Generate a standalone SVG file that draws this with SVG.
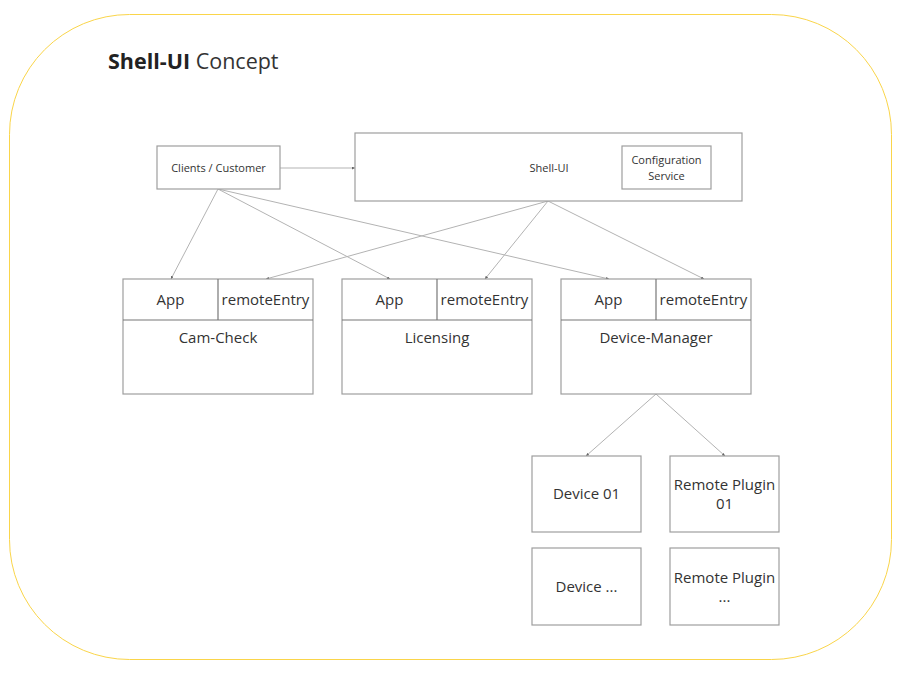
<svg xmlns="http://www.w3.org/2000/svg" width="904" height="674" viewBox="0 0 904 674">
<defs>
<style>
.frame{fill:#fff;stroke:#fad54a;stroke-width:1}
.box{fill:#fff;stroke:#9e9e9e;stroke-width:1.2}
.t{font-family:"Open Sans","Liberation Sans",sans-serif;fill:#333;text-anchor:middle}
.s{font-size:11px}
.m{font-size:15px}
.c{stroke:#b3b3b3;stroke-width:1;fill:none;marker-end:url(#ah)}
</style>
<marker id="ah" viewBox="0 0 6 6" refX="6" refY="3" markerWidth="3" markerHeight="3" orient="auto" markerUnits="userSpaceOnUse">
<path d="M0,0 L6,3 L0,6 z" fill="#666"/>
</marker>
</defs>
<rect width="904" height="674" fill="#fff"/>
<rect class="frame" x="9.5" y="14.5" width="882" height="645" rx="120" ry="120"/>
<text x="108" y="69" font-family="'Open Sans','Liberation Sans',sans-serif" font-size="21.5" fill="#222"><tspan font-weight="bold">Shell-UI</tspan><tspan fill="#333"> Concept</tspan></text>

<g id="connectors">
<line class="c" x1="280" y1="168" x2="355" y2="168"/>
<line class="c" x1="218" y1="189" x2="171" y2="279"/>
<line class="c" x1="218" y1="189" x2="390" y2="279"/>
<line class="c" x1="218" y1="189" x2="609" y2="279"/>
<line class="c" x1="548" y1="201" x2="266" y2="279"/>
<line class="c" x1="548" y1="201" x2="485" y2="279"/>
<line class="c" x1="548" y1="201" x2="704" y2="279"/>
<line class="c" x1="656" y1="394" x2="586" y2="456"/>
<line class="c" x1="656" y1="394" x2="725" y2="456"/>
</g>

<g id="clients">
<rect class="box" x="157" y="146" width="123" height="43"/>
<text class="t s" x="218.5" y="172">Clients / Customer</text>
</g>
<g id="shell-ui">
<rect class="box" x="355" y="133" width="387" height="68"/>
<text class="t s" x="549" y="172">Shell-UI</text>
</g>
<g id="config-service">
<rect class="box" x="622" y="146" width="89" height="43"/>
<text class="t s" x="666.5" y="164">Configuration</text>
<text class="t s" x="666.5" y="180">Service</text>
</g>

<g id="cam-check">
<rect class="box" x="123" y="279" width="190" height="115"/>
<line x1="123" y1="320" x2="313" y2="320" stroke="#777" stroke-width="1.2"/>
<line x1="218" y1="279" x2="218" y2="320" stroke="#777" stroke-width="1.2"/>
<text class="t m" x="170.5" y="305">App</text>
<text class="t m" x="265.5" y="305">remoteEntry</text>
<text class="t m" x="218" y="343">Cam-Check</text>
</g>
<g id="licensing">
<rect class="box" x="342" y="279" width="190" height="115"/>
<line x1="342" y1="320" x2="532" y2="320" stroke="#777" stroke-width="1.2"/>
<line x1="437" y1="279" x2="437" y2="320" stroke="#777" stroke-width="1.2"/>
<text class="t m" x="389.5" y="305">App</text>
<text class="t m" x="484.5" y="305">remoteEntry</text>
<text class="t m" x="437" y="343">Licensing</text>
</g>
<g id="device-manager">
<rect class="box" x="561" y="279" width="190" height="115"/>
<line x1="561" y1="320" x2="751" y2="320" stroke="#777" stroke-width="1.2"/>
<line x1="656" y1="279" x2="656" y2="320" stroke="#777" stroke-width="1.2"/>
<text class="t m" x="608.5" y="305">App</text>
<text class="t m" x="703.5" y="305">remoteEntry</text>
<text class="t m" x="656" y="343">Device-Manager</text>
</g>

<g id="device-01">
<rect class="box" x="532" y="456" width="109" height="76"/>
<text class="t m" x="586.5" y="499">Device 01</text>
</g>
<g id="remote-plugin-01">
<rect class="box" x="670" y="456" width="109" height="76"/>
<text class="t m" x="724.5" y="490">Remote Plugin</text>
<text class="t m" x="724.5" y="509">01</text>
</g>
<g id="device-n">
<rect class="box" x="532" y="548" width="109" height="77"/>
<text class="t m" x="586.5" y="592">Device ...</text>
</g>
<g id="remote-plugin-n">
<rect class="box" x="670" y="548" width="109" height="77"/>
<text class="t m" x="724.5" y="583">Remote Plugin</text>
<text class="t m" x="724.5" y="602">...</text>
</g>
</svg>
